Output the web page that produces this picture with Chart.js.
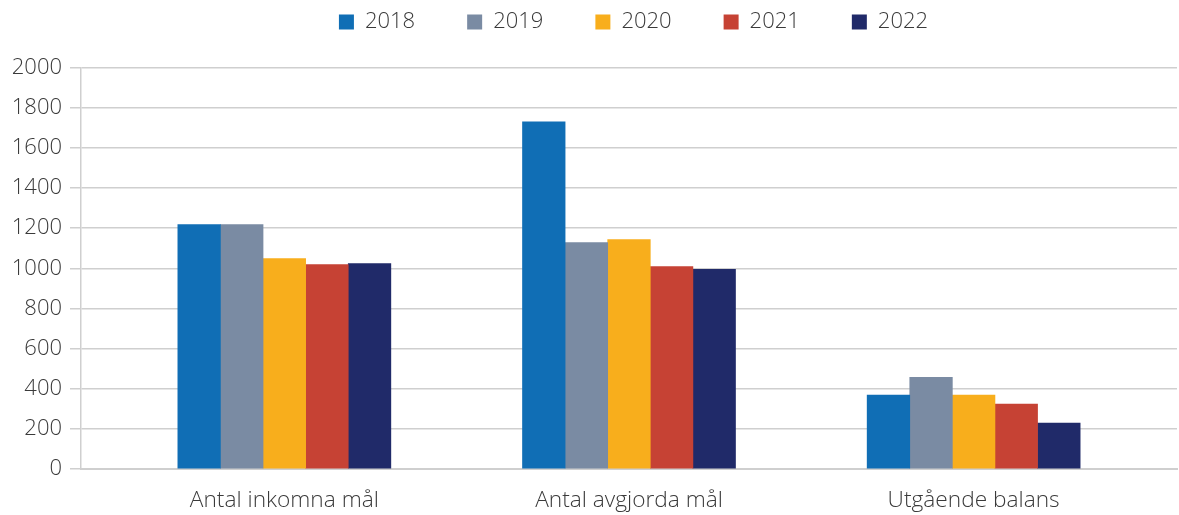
<!DOCTYPE html>
<html>
<head>
<meta charset="utf-8">
<script src="https://cdn.jsdelivr.net/npm/chart.js@4"></script>
<style>
  html, body { margin: 0; padding: 0; background: #fff; }
  #wrap { width: 1179px; height: 515px; }
</style>
</head>
<body>
<div id="wrap"><canvas id="myChart"></canvas></div>
<script>
// categories and yearly values
const categories = ['Antal inkomna mål', 'Antal avgjorda mål', 'Utgående balans'];
const years = ['2018', '2019', '2020', '2021', '2022'];
const values2018 = [1217, 1729, 368];
const values2019 = [1217, 1128, 457];
const values2020 = [1048, 1143, 368];
const values2021 = [1018, 1008, 323];
const values2022 = [1023, 994, 229];
const yTicks = [0, 200, 400, 600, 800, 1000, 1200, 1400, 1600, 1800, 2000];

const seriesValues = [values2018, values2019, values2020, values2021, values2022];
const colors = ['#106eb5', '#7a8ba3', '#f8ae1c', '#c64234', '#202a69'];

const textColor = '#3a3a3a';
const gridColor = '#cfcfcf';
const fontFamily = '"Open Sans", "Noto Sans", sans-serif';

const datasets = years.map((year, k) => ({
    label: year,
    data: seriesValues[k].map((v, i) => ({ x: i, y: v })),
    backgroundColor: colors[k],
    borderWidth: 0,
    barThickness: 42.6
}));

// legend: fixed height so the plot starts where the reference does,
// and nudged right because the reference legend is not centred
const legendPlace = {
    id: 'legendPlace',
    beforeInit(chart) {
        const fit = chart.legend.fit;
        chart.legend.fit = function () {
            fit.bind(chart.legend)();
            this.height = 108.5;
        };
    },
    afterLayout(chart) {
        chart.legend.left += 45;
        chart.legend.right += 45;
    }
};

const config = {
    type: 'bar',
    data: { datasets },
    options: {
        responsive: true,
        maintainAspectRatio: false,
        animation: false,
        layout: { padding: { top: -41, right: 2, bottom: 0, left: 0 } },
        plugins: {
            legend: {
                position: 'top',
                labels: {
                    boxWidth: 15,
                    boxHeight: 15,
                    padding: 52,
                    color: textColor,
                    font: { family: fontFamily, size: 22, weight: 300 }
                }
            },
            tooltip: { enabled: false }
        },
        scales: {
            x: {
                type: 'linear',
                min: -0.59,
                max: 2.59,
                offset: false,
                afterBuildTicks: (scale) => {
                    scale.ticks = categories.map((c, i) => ({ value: i }));
                },
                afterFit: (scale) => { scale.height = 46; },
                ticks: {
                    autoSkip: false,
                    maxRotation: 0,
                    padding: 18,
                    color: textColor,
                    font: { family: fontFamily, size: 22.7, weight: 300 },
                    callback: (v) => categories[v]
                },
                grid: { display: false, drawTicks: false, tickLength: 0 },
                border: { display: true, color: gridColor, width: 2 }
            },
            y: {
                min: 0,
                max: 2000,
                afterBuildTicks: (scale) => {
                    scale.ticks = yTicks.map(v => ({ value: v }));
                },
                afterFit: (scale) => { scale.width = 81; },
                ticks: {
                    padding: 8,
                    color: textColor,
                    font: { family: fontFamily, size: 22, weight: 300 },
                    callback: (v) => String(v)
                },
                grid: {
                    color: gridColor,
                    lineWidth: 1.5,
                    tickLength: 11,
                    drawTicks: true
                },
                border: { display: true, color: gridColor, width: 1.5 }
            }
        }
    },
    plugins: [legendPlace]
};

const myChart = new Chart(document.getElementById('myChart'), config);
</script>
</body>
</html>
